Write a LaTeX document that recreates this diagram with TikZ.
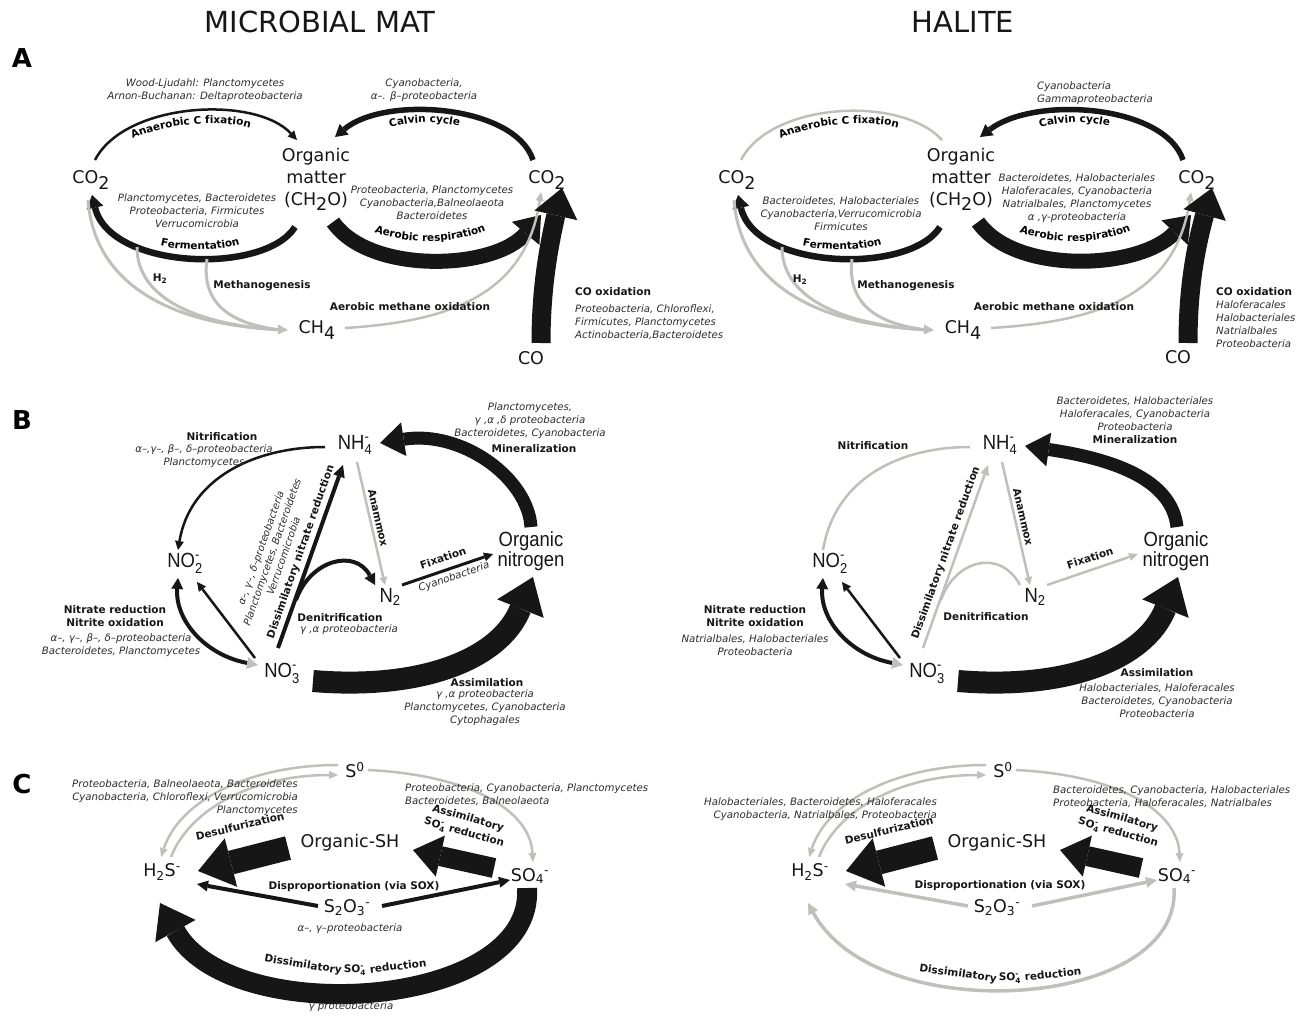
\documentclass[tikz,border=0pt]{standalone}
\usepackage{fontspec}
\usepackage{amsmath}
\setmainfont{DejaVu Sans}
\newfontfamily\narrowf{Liberation Sans}
\usetikzlibrary{arrows.meta,calc,decorations.text}
\definecolor{ink}{RGB}{22,22,22}
\definecolor{lg}{RGB}{192,192,187}
\definecolor{spgray}{RGB}{45,45,45}
\newcommand\lowr[1]{\raisebox{-0.3em}{#1}}
\newcommand\ionsub[2]{\ensuremath{_{\text{#1}}^{\text{#2}}}}
\newcommand\nrw[1]{\scalebox{0.9}[1]{#1}}
\newcommand\lblfont{\fontsize{10.5}{12.5}\selectfont\bfseries}
\begin{document}
\begin{tikzpicture}[x=1pt,y=-1pt,
 kk/.style={draw=ink,line width=#1},
 gg/.style={draw=lg,line width=#1},
 hd/.style 2 args={-{Triangle[length=#1,width=#2,line width=0pt]}},
 hs/.style={-{Triangle[length=9pt,width=9pt,line width=0pt]}},
 hm/.style={-{Triangle[length=12pt,width=14pt,line width=0pt]}},
 lab/.style={font=\lblfont,inner sep=0pt,align=center,text=ink},
 spc/.style={font=\fontsize{10.2}{13}\selectfont\itshape,inner sep=0pt,align=center,text=spgray},
 chem/.style={font=\fontsize{17.5}{22}\selectfont,inner sep=0pt,align=center,text=ink},
 chemn/.style={font=\narrowf\fontsize{20.5}{20}\selectfont,inner sep=0pt,align=center,text=ink},
 ttl/.style={font=\fontsize{29}{29}\selectfont,inner sep=0pt,text=ink},
 pl/.style={font=\fontsize{26}{26}\selectfont\bfseries,inner sep=0pt,text=black}
]
\useasboundingbox (0,0) rectangle (1307,1017);
\fill[white] (0,0) rectangle (1307,1017);

% ---------- titles ----------
\node[ttl] (tl) at (320,22) {MICROBIAL MAT};
\node[ttl] (tr) at (963,22) {HALITE};
\node[pl] (pa) at (22,58) {A};
\node[pl] (pb) at (22,420) {B};
\node[pl] (pc) at (22,784) {C};

% =================== A left ===================
\node[chem] (co2a) at (91,180) {CO\lowr{2}};
\node[chem] (oma) at (316,179) {Organic\\matter\\(CH\lowr{2}O)};
\node[chem] (co2b) at (547,180) {CO\lowr{2}};
\node[chem] (ch4a) at (317,330) {CH\lowr{4}};
\node[chem] (coa) at (531,358) {CO};
\coordinate (fa1) at (137,247);
\coordinate (fa2) at (207,259);

\draw[kk=2.5,hs] ($(co2a)+(4,-20)$) .. controls (125,102) and (255,95) .. ($(oma)+(-19,-39)$);
\draw[kk=5.5,hm] ($(co2b)+(-14,-20)$) .. controls (515,105) and (385,95) .. ($(oma)+(19,-42)$);
\draw[kk=6.5,hd={13pt}{17pt}] ($(oma)+(-21,48)$) .. controls (265,275) and (110,270) .. ($(co2a)+(1,15)$);
\draw[kk=15,hd={24pt}{36pt}] ($(oma)+(17,43)$) .. controls (370,275) and (495,270) .. ($(co2b)+(-6,35)$);
\draw[gg=3,hd={10pt}{10pt}] ($(co2a)+(-3,20)$) .. controls (95,290) and (180,325) .. ($(ch4a)+(-29,0)$);
\draw[gg=3] (fa1) .. controls (137,300) and (200,325) .. ($(ch4a)+(-36,0)$);
\draw[gg=3] (fa2) .. controls (200,310) and (240,325) .. ($(ch4a)+(-36,0)$);
\draw[gg=2.5,hd={9pt}{8pt}] ($(ch4a)+(28,-2)$) .. controls (440,322) and (525,300) .. ($(co2b)+(-6,12)$);
\draw[kk=19,hd={28pt}{44pt}] ($(coa)+(10,-15)$) .. controls (541,290) and (548,250) .. ($(co2b)+(15,8)$);

\node[spc] (wla) at (205,90) {Wood-Ljudahl: Planctomycetes\\Arnon-Buchanan: Deltaproteobacteria};
\path[decorate,decoration={text along path,text align=center,text={|\lblfont|Anaerobic C fixation}}] (110,154) .. controls (140,122) and (240,112) .. (275,139);
\node[spc] (cvsa) at (424,90) {Cyanobacteria,\\α–. β–proteobacteria};
\path[decorate,decoration={text along path,text align=center,text={|\lblfont|Calvin cycle}}] (370,138) .. controls (395,118) and (455,118) .. (480,135);
\node[spc] (fsa) at (197,211) {Planctomycetes, Bacteroidetes\\Proteobacteria, Firmicutes\\Verrucomicrobia};
\path[decorate,decoration={text along path,text align=center,text={|\lblfont|Fermentation}}] (140,238) .. controls (170,254) and (230,254) .. (260,236);
\node[spc] (asa) at (432,203) {Proteobacteria, Planctomycetes\\Cyanobacteria,Balneolaeota\\Bacteroidetes};
\path[decorate,decoration={text along path,text align=center,text={|\lblfont|Aerobic respiration}}] (360,225) .. controls (395,247) and (465,247) .. (500,223);
\node[lab] (h2a) at (160,279) {H\textsubscript{2}};
\node[lab] (mga) at (262,286) {Methanogenesis};
\node[lab] (amoa) at (410,307) {Aerobic methane oxidation};
\node[lab,anchor=west] (coxa) at (575,292) {CO oxidation};
\node[spc,anchor=west,align=left] (coxsa) at (575,322) {Proteobacteria, Chloroflexi,\\Firmicutes, Planctomycetes\\Actinobacteria,Bacteroidetes};

% =================== A right ===================
\node[chem] (co2c) at (737,180) {CO\lowr{2}};
\node[chem] (omb) at (961,179) {Organic\\matter\\(CH\lowr{2}O)};
\node[chem] (co2d) at (1197,180) {CO\lowr{2}};
\node[chem] (ch4b) at (963,330) {CH\lowr{4}};
\node[chem] (cob) at (1178,357) {CO};
\coordinate (fb1) at (782,247);
\coordinate (fb2) at (852,259);

\draw[gg=2.5] ($(co2c)+(4,-20)$) .. controls (771,102) and (901,95) .. ($(omb)+(-19,-39)$);
\draw[kk=5.5,hm] ($(co2d)+(-14,-20)$) .. controls (1165,105) and (1035,95) .. ($(omb)+(19,-42)$);
\draw[kk=6.5,hd={13pt}{17pt}] ($(omb)+(-21,48)$) .. controls (910,275) and (755,270) .. ($(co2c)+(1,15)$);
\draw[kk=15,hd={24pt}{36pt}] ($(omb)+(17,43)$) .. controls (1015,275) and (1140,270) .. ($(co2d)+(-6,35)$);
\draw[gg=3,hd={10pt}{10pt}] ($(co2c)+(-3,20)$) .. controls (741,290) and (826,325) .. ($(ch4b)+(-29,0)$);
\draw[gg=3] (fb1) .. controls (782,300) and (846,325) .. ($(ch4b)+(-36,0)$);
\draw[gg=3] (fb2) .. controls (846,310) and (886,325) .. ($(ch4b)+(-36,0)$);
\draw[gg=2.5,hd={9pt}{8pt}] ($(ch4b)+(28,-2)$) .. controls (1090,322) and (1175,300) .. ($(co2d)+(-6,12)$);
\draw[kk=19,hd={28pt}{44pt}] ($(cob)+(10,-14)$) .. controls (1188,290) and (1195,250) .. ($(co2d)+(15,8)$);

\path[decorate,decoration={text along path,text align=center,text={|\lblfont|Anaerobic C fixation}}] (758,154) .. controls (788,122) and (888,112) .. (923,139);
\node[spc,anchor=west,align=left] (cvsb) at (1037,93) {Cyanobacteria\\Gammaproteobacteria};
\path[decorate,decoration={text along path,text align=center,text={|\lblfont|Calvin cycle}}] (1020,138) .. controls (1045,118) and (1105,118) .. (1130,135);
\node[spc] (fsb) at (841,214) {Bacteroidetes, Halobacteriales\\Cyanobacteria,Verrucomicrobia\\Firmicutes};
\path[decorate,decoration={text along path,text align=center,text={|\lblfont|Fermentation}}] (782,238) .. controls (812,254) and (872,254) .. (902,236);
\node[spc] (asb) at (1077,198) {Bacteroidetes, Halobacteriales\\Haloferacales, Cyanobacteria\\Natrialbales, Planctomycetes\\α ,γ-proteobacteria};
\path[decorate,decoration={text along path,text align=center,text={|\lblfont|Aerobic respiration}}] (1005,225) .. controls (1040,247) and (1110,247) .. (1145,223);
\node[lab] (h2b) at (800,280) {H\textsubscript{2}};
\node[lab] (mgb) at (906,286) {Methanogenesis};
\node[lab] (amob) at (1054,307) {Aerobic methane oxidation};
\node[lab,anchor=west] (coxb) at (1216,292) {CO oxidation};
\node[spc,anchor=west,align=left] (coxsb) at (1216,324.5) {Haloferacales\\Halobacteriales\\Natrialbales\\Proteobacteria};

% =================== B left ===================
\node[chemn] (nh4a) at (355,445) {\nrw{NH\ionsub{4}{-}}};
\node[chemn] (no2a) at (185,563) {\nrw{NO\ionsub{2}{-}}};
\node[chemn] (no3a) at (282,673) {\nrw{NO\ionsub{3}{-}}};
\node[chemn] (n2a) at (390,597) {\nrw{N\textsubscript{2}}};
\node[chemn] (ona) at (531,551) {\nrw{Organic}\\\nrw{nitrogen}};
\coordinate (dna) at (296,600);

\draw[kk=2.5,hs] ($(nh4a)+(-30,2)$) .. controls (255,447) and (190,478) .. ($(no2a)+(-7,-13)$);
\draw[kk=4,{Triangle[length=11pt,width=12pt,line width=0pt]}-{Triangle[length=11pt,width=12pt,line width=0pt,color=lg]}] ($(no2a)+(-7,15)$) .. controls (175,620) and (205,655) .. ($(no3a)+(-24,-8)$);
\draw[kk=2.5,hs] ($(no3a)+(-27,-15)$) -- ($(no2a)+(12,19)$);
\draw[kk=4,hd={12pt}{12pt}] ($(no3a)+(-4,-25)$) -- ($(nh4a)+(-12,20)$);
\draw[kk=4,hd={11pt}{12pt}] (dna) .. controls (310,560) and (355,548) .. ($(n2a)+(-15,-12)$);
\draw[gg=2.5,hd={8pt}{8pt}] ($(nh4a)+(2,17)$) -- ($(n2a)+(-5,-12)$);
\draw[kk=3,hs] ($(n2a)+(12,-12)$) -- ($(ona)+(-38,3)$);
\draw[kk=13,hd={24pt}{34pt}] ($(ona)+(0,-24)$) .. controls (528,478) and (462,430) .. ($(nh4a)+(25,-2)$);
\draw[kk=22,hd={34pt}{50pt}] ($(no3a)+(31,8)$) .. controls (420,690) and (500,660) .. ($(ona)+(2,26)$);

\node[lab] (nita) at (222,437) {Nitrification};
\node[spc] (nitsa) at (204,456) {α–,γ–, β–, δ–proteobacteria\\Planctomycetes};
\node[lab] (nra) at (115,616) {Nitrate reduction\\Nitrite oxidation};
\node[spc] (nrsa) at (121,645) {α–, γ–, β–, δ–proteobacteria\\Bacteroidetes, Planctomycetes};
\node[lab,rotate=70.6] (dnra) at (301,552) {Dissimilatory nitrate reduction};
\node[spc,rotate=70.6,font=\fontsize{10}{12}\selectfont\itshape] (dnrsa) at (272,552) {α–, γ–, δ–proteobacteria\\Planctomycetes, Bacteroidetes\\Verrucomicrobia};
\node[lab,rotate=-77] (anxa) at (378,518) {Anammox};
\node[lab,rotate=18.8] (fxa) at (443,558) {Fixation};
\node[spc,rotate=18.8] (fxsa) at (454,577) {Cyanobacteria};
\node[lab] (dena) at (340,618) {Denitrification};
\node[spc] (densa) at (349,630) {γ ,α proteobacteria};
\node[spc] (minsa) at (530,421) {Planctomycetes,\\γ ,α ,δ proteobacteria\\Bacteroidetes, Cyanobacteria};
\node[lab] (mina) at (534,449) {Mineralization};
\node[lab] (asma) at (487,683) {Assimilation};
\node[spc] (asmsa) at (485,708) {γ ,α proteobacteria\\Planctomycetes, Cyanobacteria\\Cytophagales};

% =================== B right ===================
\node[chemn] (nh4b) at (1000,445) {\nrw{NH\ionsub{4}{-}}};
\node[chemn] (no2b) at (830,563) {\nrw{NO\ionsub{2}{-}}};
\node[chemn] (no3b) at (927,673) {\nrw{NO\ionsub{3}{-}}};
\node[chemn] (n2b) at (1035,597) {\nrw{N\textsubscript{2}}};
\node[chemn] (onb) at (1176,551) {\nrw{Organic}\\\nrw{nitrogen}};
\coordinate (dnb) at (941,600);

\draw[gg=2.5] ($(nh4b)+(-30,2)$) .. controls (900,447) and (835,478) .. ($(no2b)+(-7,-13)$);
\draw[kk=4,{Triangle[length=11pt,width=12pt,line width=0pt]}-{Triangle[length=11pt,width=12pt,line width=0pt,color=lg]}] ($(no2b)+(-7,15)$) .. controls (820,620) and (850,655) .. ($(no3b)+(-24,-8)$);
\draw[kk=2.5,hs] ($(no3b)+(-27,-15)$) -- ($(no2b)+(12,19)$);
\draw[gg=2.5,hd={10pt}{9pt}] ($(no3b)+(-4,-25)$) -- ($(nh4b)+(-12,20)$);
\draw[gg=2.5] (dnb) .. controls (955,560) and (1000,548) .. ($(n2b)+(-15,-12)$);
\draw[gg=2.5,hd={8pt}{8pt}] ($(nh4b)+(2,17)$) -- ($(n2b)+(-5,-12)$);
\draw[gg=2.5,hd={9pt}{8pt}] ($(n2b)+(12,-12)$) -- ($(onb)+(-38,3)$);
\draw[kk=13,hd={24pt}{34pt}] ($(onb)+(1,-24)$) .. controls (1172,482) and (1120,460) .. ($(nh4b)+(25,1)$);
\draw[kk=22,hd={34pt}{50pt}] ($(no3b)+(31,8)$) .. controls (1065,690) and (1145,660) .. ($(onb)+(2,26)$);

\node[lab] (nitb) at (873,446) {Nitrification};
\node[lab] (nrb) at (755,616) {Nitrate reduction\\Nitrite oxidation};
\node[spc] (nrsb) at (755,645) {Natrialbales, Halobacteriales\\Proteobacteria};
\node[lab,rotate=70.2] (dnrb) at (946,553) {Dissimilatory nitrate reduction};
\node[lab,rotate=-77] (anxb) at (1023,517) {Anammox};
\node[lab,rotate=17.7] (fxb) at (1090,558) {Fixation};
\node[lab] (denb) at (986,617) {Denitrification};
\node[spc] (minsb) at (1135,414) {Bacteroidetes, Halobacteriales\\Haloferacales, Cyanobacteria\\Proteobacteria};
\node[lab] (minb) at (1135,440) {Mineralization};
\node[lab] (asmb) at (1157,673) {Assimilation};
\node[spc] (asmsb) at (1157,701) {Halobacteriales, Haloferacales\\Bacteroidetes, Cyanobacteria\\Proteobacteria};

% =================== C left ===================
\node[chem] (s0a) at (355,770) {S\textsuperscript{0}};
\node[chem] (h2sa) at (162,872) {H\textsubscript{2}S\textsuperscript{-}};
\node[chem] (osha) at (350,843) {Organic-SH};
\node[chem] (so4a) at (530,876) {SO\textsubscript{4}\textsuperscript{-}};
\node[chem] (s2o3a) at (347,908) {S\textsubscript{2}O\textsubscript{3}\textsuperscript{-}};

\draw[gg=2.5,hd={9pt}{8pt}] ($(s0a)+(-17,-5)$) .. controls (250,765) and (180,800) .. ($(h2sa)+(-1,-15)$);
\draw[gg=2.5,hd={9pt}{8pt}] ($(h2sa)+(9,-15)$) .. controls (190,808) and (255,775) .. ($(s0a)+(-17,5)$);
\draw[gg=2.5,hd={9pt}{8pt}] ($(s0a)+(13,0)$) .. controls (470,775) and (530,810) .. ($(so4a)+(3,-14)$);
\draw[kk=24,hd={34pt}{50pt}] ($(osha)+(-62,5)$) -- ($(h2sa)+(36,-1)$);
\draw[kk=20,hd={28pt}{42pt}] ($(so4a)+(-36,-8)$) -- ($(osha)+(63,7)$);
\draw[kk=4,hd={11pt}{11pt}] ($(s2o3a)+(-29,-2)$) -- ($(h2sa)+(35,12)$);
\draw[kk=4,hd={11pt}{11pt}] ($(s2o3a)+(35,-2)$) -- ($(so4a)+(-20,4)$);
\draw[kk=20,hd={32pt}{46pt}] ($(so4a)+(-3,12)$) .. controls (535,1010) and (230,1030) .. ($(h2sa)+(-2,31)$);

\node[spc,anchor=east,align=right] (tlsa) at (298,798) {Proteobacteria, Balneolaeota, Bacteroidetes\\Cyanobacteria, Chloroflexi, Verrucomicrobia\\Planctomycetes};
\node[spc,anchor=west,align=left] (trsa) at (405,795) {Proteobacteria, Cyanobacteria, Planctomycetes\\Bacteroidetes, Balneolaeota};
\node[lab,rotate=13] (dsfa) at (240,826) {Desulfurization};
\node[lab,rotate=-16,font=\fontsize{10.5}{14.5}\selectfont\bfseries] (assa) at (466,826) {Assimilatory\\SO\ionsub{4}{-} reduction};
\node[lab] (dspa) at (354,887) {Disproportionation (via SOX)};
\node[spc] (dspsa) at (350,929) {α–, γ–proteobacteria};
\node[lab,rotate=-9] (dsa1) at (303,965) {Dissimilatory};
\node[lab,rotate=-1] (dsa2) at (355,970) {SO\ionsub{4}{-}};
\node[lab,rotate=7] (dsa3) at (398,966) {reduction};
\node[spc] (dssa) at (351,1007) {γ proteobacteria};

% =================== C right ===================
\node[chem] (s0b) at (1003,770) {S\textsuperscript{0}};
\node[chem] (h2sb) at (810,872) {H\textsubscript{2}S\textsuperscript{-}};
\node[chem] (oshb) at (997,843) {Organic-SH};
\node[chem] (so4b) at (1177,876) {SO\textsubscript{4}\textsuperscript{-}};
\node[chem] (s2o3b) at (997,908) {S\textsubscript{2}O\textsubscript{3}\textsuperscript{-}};

\draw[gg=2.5,hd={9pt}{8pt}] ($(s0b)+(-17,-5)$) .. controls (898,765) and (828,800) .. ($(h2sb)+(-1,-15)$);
\draw[gg=2.5,hd={9pt}{8pt}] ($(h2sb)+(9,-15)$) .. controls (838,808) and (903,775) .. ($(s0b)+(-17,5)$);
\draw[gg=2.5,hd={9pt}{8pt}] ($(s0b)+(13,0)$) .. controls (1117,775) and (1177,810) .. ($(so4b)+(3,-14)$);
\draw[kk=24,hd={34pt}{50pt}] ($(oshb)+(-62,5)$) -- ($(h2sb)+(36,-1)$);
\draw[kk=20,hd={28pt}{42pt}] ($(so4b)+(-36,-8)$) -- ($(oshb)+(63,7)$);
\draw[gg=3.5,hd={11pt}{11pt}] ($(s2o3b)+(-29,-2)$) -- ($(h2sb)+(35,12)$);
\draw[gg=3.5,hd={11pt}{11pt}] ($(s2o3b)+(35,-2)$) -- ($(so4b)+(-20,4)$);
\draw[gg=3.5,hd={11pt}{11pt}] ($(so4b)+(-3,12)$) .. controls (1182,1010) and (877,1030) .. ($(h2sb)+(-2,31)$);

\node[spc,anchor=east,align=right] (tlsb) at (937,809) {Halobacteriales, Bacteroidetes, Haloferacales\\Cyanobacteria, Natrialbales, Proteobacteria};
\node[spc,anchor=west,align=left] (trsb) at (1053,797) {Bacteroidetes, Cyanobacteria, Halobacteriales\\Proteobacteria, Haloferacales, Natrialbales};
\node[lab,rotate=13] (dsfb) at (889,830) {Desulfurization};
\node[lab,rotate=-16,font=\fontsize{10.5}{14.5}\selectfont\bfseries] (assb) at (1120,826) {Assimilatory\\SO\ionsub{4}{-} reduction};
\node[lab] (dspb) at (1000,886) {Disproportionation (via SOX)};
\node[lab,rotate=-8] (dsb1) at (958,974) {Dissimilatory};
\node[lab,rotate=-1] (dsb2) at (1010,978) {SO\ionsub{4}{-}};
\node[lab,rotate=6] (dsb3) at (1053,974) {reduction};
\end{tikzpicture}
\end{document}
